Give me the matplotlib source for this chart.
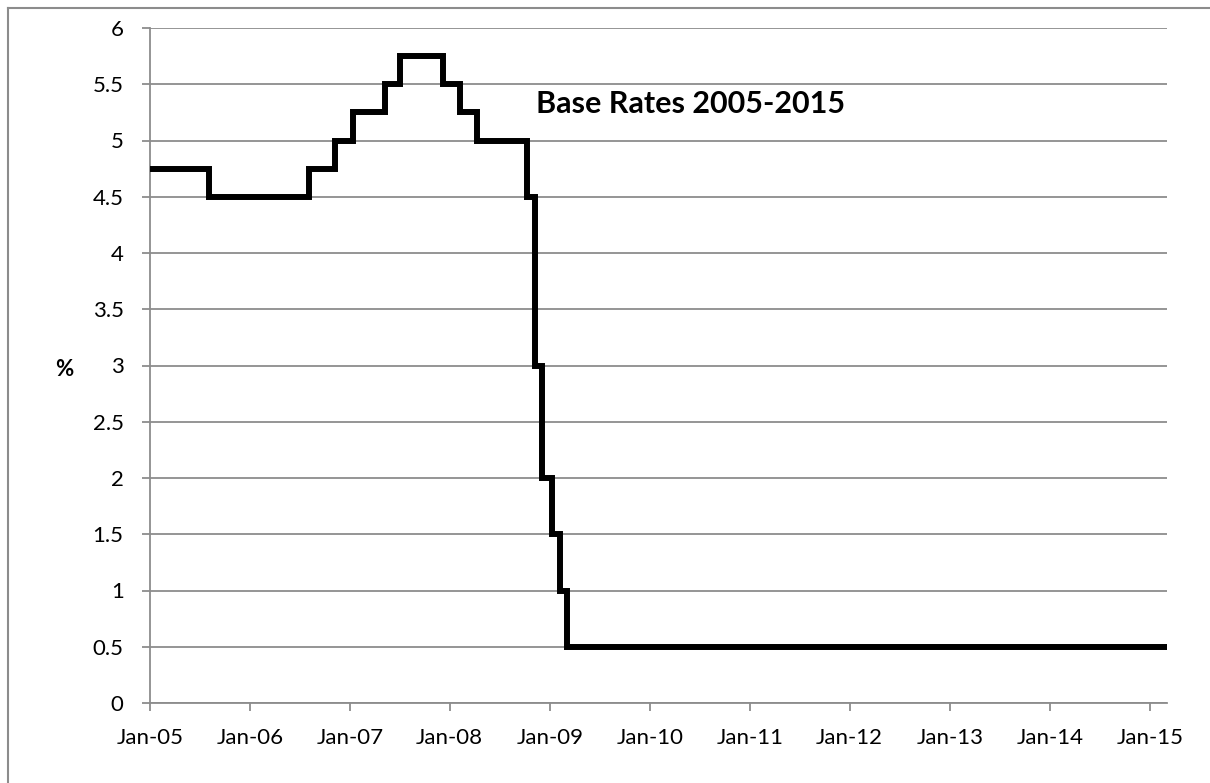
import pandas as pd
import numpy as np
import matplotlib
matplotlib.use('Agg')
import matplotlib.pyplot as plt
import matplotlib.dates as mdates
from matplotlib.lines import Line2D

# Bank rate changes (date of change, new rate %)
change_dates = ['2005-01-01', '2005-08-04', '2006-08-03', '2006-11-09', '2007-01-11',
                '2007-05-10', '2007-07-05', '2007-12-06', '2008-02-07', '2008-04-10',
                '2008-10-08', '2008-11-06', '2008-12-04', '2009-01-08', '2009-02-05',
                '2009-03-05', '2015-03-05']
rates = [4.75, 4.5, 4.75, 5.0, 5.25, 5.5, 5.75, 5.5, 5.25, 5.0,
         4.5, 3.0, 2.0, 1.5, 1.0, 0.5, 0.5]

y_ticks = [0, 0.5, 1, 1.5, 2, 2.5, 3, 3.5, 4, 4.5, 5, 5.5, 6]
y_tick_labels = ['0', '0.5', '1', '1.5', '2', '2.5', '3', '3.5', '4', '4.5', '5', '5.5', '6']
tick_years = list(range(2005, 2016))

TITLE = 'Base Rates 2005-2015'
FONT = ['Lato', 'DejaVu Sans']
GRID = '#8c8c8c'

plt.rcParams['font.family'] = FONT

dates = pd.to_datetime(change_dates)

fig = plt.figure(figsize=(12.1, 7.83), dpi=100)
W, H = 1210, 783
ax = fig.add_axes([150 / W, 1 - 703 / H, (1167 - 150) / W, (703 - 28) / H])

ax.step(dates, rates, where='post', color='black', linewidth=4.3,
        solid_joinstyle='miter', solid_capstyle='round', zorder=3)

ax.set_xlim(pd.Timestamp('2005-01-01'), pd.Timestamp('2015-03-05'))
ax.set_ylim(0, 6)
ax.set_yticks(y_ticks)
ax.set_yticklabels(y_tick_labels)
ax.set_xticks([pd.Timestamp(f'{y}-01-01') for y in tick_years])
ax.xaxis.set_major_formatter(mdates.DateFormatter('%b-%y'))

ax.grid(axis='y', color=GRID, linewidth=1.3)
ax.set_axisbelow(True)
for s in ['top', 'right']:
    ax.spines[s].set_visible(False)
for s in ['left', 'bottom']:
    ax.spines[s].set_color(GRID)
    ax.spines[s].set_linewidth(1.3)
ax.tick_params(axis='both', colors=GRID, length=6, width=1.3, direction='out',
               labelcolor='black', labelsize=16)
ax.tick_params(axis='x', pad=12)
ax.tick_params(axis='y', pad=13)

fig.text(691 / W, 1 - 104 / H, TITLE, ha='center', va='center',
         fontsize=22, fontweight='bold')
fig.text(64 / W, 1 - 369 / H, '%', ha='center', va='center',
         fontsize=16, fontweight='bold')

# chart area border (top and left edges visible)
fig.add_artist(Line2D([7.5 / W, 1.0], [1 - 7.5 / H, 1 - 7.5 / H], color=GRID, linewidth=1.5,
                      transform=fig.transFigure))
fig.add_artist(Line2D([7.5 / W, 7.5 / W], [0, 1 - 7.5 / H], color=GRID, linewidth=1.5,
                      transform=fig.transFigure))

fig.savefig('out.png', dpi=100)
